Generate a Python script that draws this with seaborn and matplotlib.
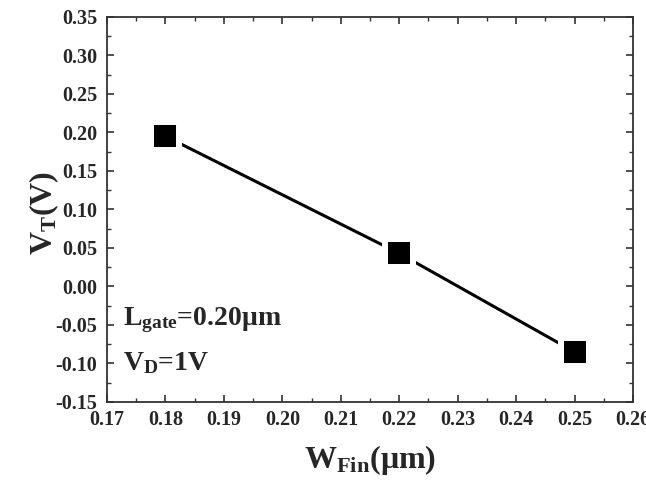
import matplotlib
matplotlib.use("Agg")
import matplotlib.pyplot as plt
import seaborn as sns
import pandas as pd
from matplotlib.ticker import MultipleLocator

w_fin = [0.18, 0.22, 0.25]
v_t = [0.195, 0.043, -0.085]
x_ticks = [0.17, 0.18, 0.19, 0.20, 0.21, 0.22, 0.23, 0.24, 0.25, 0.26]
y_ticks = [-0.15, -0.10, -0.05, 0.00, 0.05, 0.10, 0.15, 0.20, 0.25, 0.30, 0.35]

sns.set_theme(style="ticks")
plt.rcParams['font.family'] = ['Liberation Serif', 'DejaVu Serif']
plt.rcParams['font.weight'] = 'bold'
plt.rcParams['axes.labelweight'] = 'bold'
plt.rcParams['mathtext.fontset'] = 'custom'
plt.rcParams['mathtext.rm'] = 'Liberation Serif:bold'
plt.rcParams['mathtext.bf'] = 'Liberation Serif:bold'
plt.rcParams['mathtext.it'] = 'Liberation Serif:bold'

df = pd.DataFrame({"w": w_fin, "v": v_t})

fig = plt.figure(figsize=(6.46, 4.82), dpi=100)
ax = fig.add_axes([0.1656, 0.166, 0.8144, 0.799])

sns.lineplot(data=df, x="w", y="v", ax=ax, color="black", linewidth=2.2)
sns.scatterplot(data=df, x="w", y="v", ax=ax, marker="s", s=20**2,
                color="black", edgecolor="white", linewidth=4.3, zorder=3)

ax.set_xlim(0.17, 0.26)
ax.set_ylim(-0.15, 0.35)
ax.set_xticks(x_ticks)
ax.set_yticks(y_ticks)
ax.set_xticklabels([f"{t:.2f}" for t in x_ticks], fontsize=14.5, fontweight='bold')
ax.set_yticklabels([f"{t:.2f}" for t in y_ticks], fontsize=14.5, fontweight='bold')
ax.xaxis.set_minor_locator(MultipleLocator(0.005))
ax.yaxis.set_minor_locator(MultipleLocator(0.025))
ax.tick_params(which='both', direction='in', top=True, right=True, color='#333333')
ax.tick_params(which='major', length=5, width=1.2)
ax.tick_params(axis='y', which='major', pad=7)
ax.tick_params(axis='x', which='major', pad=6)
ax.tick_params(which='minor', length=3, width=1.0)
for s in ax.spines.values():
    s.set_linewidth(1.3)
    s.set_color('#333333')

ax.set_xlabel(r"W$_{\mathbf{Fin}}$(μm)", fontsize=23, fontweight='bold', labelpad=9)
ax.set_ylabel(r"V$_{\mathbf{T}}$(V)", fontsize=23, fontweight='bold')
ax.yaxis.set_label_coords(-0.088, 0.49)

ax.text(0.1728, -0.05, r"L$_{\mathbf{gate}}$=0.20μm", fontsize=20)
ax.text(0.1728, -0.108, r"V$_{\mathbf{D}}$=1V", fontsize=20)

fig.savefig("out.png", dpi=100)
